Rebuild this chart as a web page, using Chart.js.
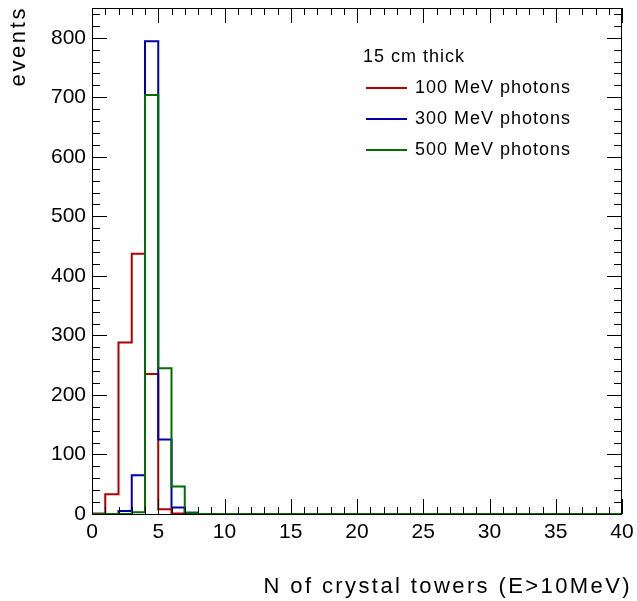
<!DOCTYPE html>
<html>
<head>
<meta charset="utf-8">
<script src="https://cdn.jsdelivr.net/npm/chart.js"></script>
<style>
  body { margin: 0; background: #fff; }
  canvas { display: block; }
</style>
</head>
<body>
<canvas id="c" width="637" height="601"></canvas>
<script>
// histogram contents, one value per bin of width 1 from 0 to 40
const binEdges = [0,1,2,3,4,5,6,7,8,9,10,11,12,13,14,15,16,17,18,19,20,
                  21,22,23,24,25,26,27,28,29,30,31,32,33,34,35,36,37,38,39,40];
const photons100 = [1,33,288,437,235,8,1,0,0,0, 0,0,0,0,0,0,0,0,0,0, 0,0,0,0,0,0,0,0,0,0, 0,0,0,0,0,0,0,0,0,0];
const photons300 = [0,0,5,65,794,125,11,2,0,0, 0,0,0,0,0,0,0,0,0,0, 0,0,0,0,0,0,0,0,0,0, 0,0,0,0,0,0,0,0,0,0];
const photons500 = [0,0,0,3,704,245,46,2,0,0, 0,0,0,0,0,0,0,0,0,0, 0,0,0,0,0,0,0,0,0,0, 0,0,0,0,0,0,0,0,0,0];
const seriesLabels = ['100 MeV photons', '300 MeV photons', '500 MeV photons'];
const seriesColors = ['#b00000', '#0000a8', '#006e00'];
const xTicks = [0,5,10,15,20,25,30,35,40];
const yTicks = [0,100,200,300,400,500,600,700,800];
const legendTitle = '15 cm thick';
const xTitle = 'N of crystal towers (E>10MeV)';
const yTitle = 'events';

const FONT = '"Liberation Sans", Arial, Helvetica, sans-serif';

// bin i spans [edge i, edge i+1]; the upper edge repeats the last bin
const toSteps = vals => binEdges.map((e, i) => ({ x: e, y: vals[Math.min(i, vals.length - 1)] }));

const allSeries = [photons100, photons300, photons500];

// ROOT style frame, ticks inside on all four sides, legend and axis titles
const rootStyle = {
    id: 'rootStyle',
    afterDatasetsDraw(chart) {
        const { ctx, chartArea: a, scales: { x, y } } = chart;
        ctx.save();
        ctx.strokeStyle = '#000';
        ctx.lineWidth = 1;
        ctx.strokeRect(a.left + 0.5, a.top + 0.5, a.right - a.left - 1, a.bottom - a.top);

        ctx.beginPath();
        for (let v = 0; v <= 40; v += 1) {
            const px = Math.round(x.getPixelForValue(v)) + 0.5;
            const len = v % 5 === 0 ? 15 : 7;
            ctx.moveTo(px, a.bottom); ctx.lineTo(px, a.bottom - len);
            ctx.moveTo(px, a.top); ctx.lineTo(px, a.top + len);
        }
        for (let v = 0; v <= 850; v += 20) {
            const py = Math.round(y.getPixelForValue(v)) + 0.5;
            const len = v % 100 === 0 ? 15 : 8;
            ctx.moveTo(a.left, py); ctx.lineTo(a.left + len, py);
            ctx.moveTo(a.right, py); ctx.lineTo(a.right - len, py);
        }
        ctx.stroke();

        // legend
        ctx.fillStyle = '#000';
        ctx.font = '18px ' + FONT;
        ctx.letterSpacing = '1px';
        ctx.textBaseline = 'middle';
        ctx.textAlign = 'left';
        ctx.fillText(legendTitle, 363, 57);
        seriesLabels.forEach((lab, i) => {
            const ly = 88 + i * 31;
            ctx.strokeStyle = seriesColors[i];
            ctx.lineWidth = 2;
            ctx.beginPath();
            ctx.moveTo(366, ly); ctx.lineTo(407, ly);
            ctx.stroke();
            ctx.fillText(lab, 415, ly);
        });

        // axis titles
        ctx.font = '22px ' + FONT;
        ctx.letterSpacing = '2.4px';
        ctx.textAlign = 'right';
        ctx.textBaseline = 'alphabetic';
        ctx.fillText(xTitle, 632, 593);
        ctx.save();
        ctx.translate(25, 6);
        ctx.rotate(-Math.PI / 2);
        ctx.letterSpacing = '2.6px';
        ctx.textAlign = 'right';
        ctx.fillText(yTitle, 0, 0);
        ctx.restore();
        ctx.restore();
    }
};

new Chart(document.getElementById('c'), {
    type: 'line',
    data: {
        datasets: allSeries.map((vals, i) => ({
            label: seriesLabels[i],
            data: toSteps(vals),
            stepped: 'before',
            borderColor: seriesColors[i],
            borderWidth: 2,
            pointRadius: 0,
            fill: false,
            order: allSeries.length - i
        }))
    },
    options: {
        responsive: false,
        animation: false,
        layout: { padding: { top: 8, right: 15, left: 0, bottom: 0 } },
        plugins: { legend: { display: false }, tooltip: { enabled: false } },
        scales: {
            x: {
                type: 'linear',
                min: 0, max: 40,
                grid: { display: false, drawTicks: false },
                border: { display: false },
                afterBuildTicks: s => { s.ticks = xTicks.map(v => ({ value: v })); },
                afterFit: s => { s.height = 87; s.paddingLeft = 0; s.paddingRight = 0; },
                ticks: { color: '#000', padding: 6, maxRotation: 0, font: { family: FONT, size: 21 } }
            },
            y: {
                min: 0, max: 850,
                grid: { display: false, drawTicks: false },
                border: { display: false },
                afterBuildTicks: s => { s.ticks = yTicks.map(v => ({ value: v })); },
                afterFit: s => { s.width = 92; s.paddingTop = 0; s.paddingBottom = 0; },
                ticks: { color: '#000', padding: 6, font: { family: FONT, size: 21 } }
            }
        }
    },
    plugins: [rootStyle]
});
</script>
</body>
</html>
